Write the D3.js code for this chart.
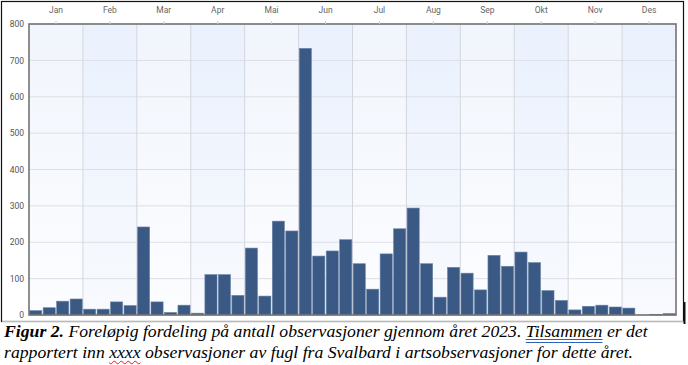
<!DOCTYPE html>
<html>
<head>
<meta charset="utf-8">
<script src="https://cdn.jsdelivr.net/npm/d3@7"></script>
<style>
  html, body { margin: 0; padding: 0; background: #fff; }
  #wrap { position: relative; width: 688px; height: 365px; overflow: hidden; }
  svg { position: absolute; left: 0; top: 0; }
  #cap { position: absolute; left: 4px; top: 321px; width: 700px;
         font-family: "Liberation Serif", "Times New Roman", serif; font-style: italic;
         font-size: 17.7px; line-height: 21px; color: #000; white-space: nowrap; }
  #cap b { font-weight: bold; }
  .dbl { text-decoration: underline double #2f5fbf; text-underline-offset: 2px; }
  .wavy { text-decoration: underline wavy #e02020; text-decoration-thickness: 1px; text-underline-offset: 2px; }
</style>
</head>
<body>
<div id="wrap">
<svg id="chart" width="688" height="365"></svg>
<div id="cap"><b>Figur 2.</b> Foreløpig fordeling på antall observasjoner gjennom året 2023. <span class="dbl">Tilsammen</span> er det<br>rapportert inn <span class="wavy">xxxx</span> observasjoner av fugl fra Svalbard i artsobservasjoner for dette året.</div>
</div>
<script>
// ---- data ----
const months = ["Jan","Feb","Mar","Apr","Mai","Jun","Jul","Aug","Sep","Okt","Nov","Des"];
const periods = d3.range(48); // four periods per month
const counts = [
  12, 20, 38, 44,
  16, 16, 36, 26,
  242, 36, 7, 27,
  5, 111, 111, 54,
  184, 52, 258, 231,
  733, 162, 176, 207,
  141, 71, 168, 237,
  294, 141, 49, 131,
  115, 69, 164, 134,
  173, 144, 67, 40,
  14, 24, 27, 22,
  19, 0, 2, 4
];
const yTicks = [0, 100, 200, 300, 400, 500, 600, 700, 800];

// ---- layout ----
const L = 29, R = 676, T = 24, B = 315;
const svg = d3.select("#chart");

const defs = svg.append("defs");
function grad(id, top, bot) {
  const g = defs.append("linearGradient").attr("id", id)
    .attr("x1", 0).attr("y1", 0).attr("x2", 0).attr("y2", 1);
  g.append("stop").attr("offset", "0%").attr("stop-color", top);
  g.append("stop").attr("offset", "100%").attr("stop-color", bot);
}
grad("gOdd", "#f1f5fc", "#fcfdff");
grad("gEven", "#eaf1fd", "#f8fafe");

// outer frame of the chart picture
svg.append("rect").attr("x", 1.5).attr("y", 1.5).attr("width", 682).attr("height", 320)
  .attr("fill", "#fff").attr("stroke", "#111").attr("stroke-width", 1.2);
svg.append("line").attr("x1", 2).attr("x2", 684).attr("y1", 321.5).attr("y2", 321.5)
  .attr("stroke", "#bbb").attr("stroke-width", 1);
svg.append("rect").attr("x", 683.5).attr("y", 302).attr("width", 2).attr("height", 22).attr("fill", "#111");

const xm = d3.scaleBand().domain(months).range([L, R]).padding(0);
const x = d3.scaleBand().domain(periods).range([L, R]).paddingInner(0.1).paddingOuter(0.05);
const y = d3.scaleLinear().domain([0, 800]).range([B, T]);

// month bands
svg.append("g").selectAll("rect").data(months).join("rect")
  .attr("x", d => xm(d)).attr("y", T).attr("width", xm.bandwidth()).attr("height", B - T)
  .attr("fill", (d, i) => i % 2 ? "url(#gEven)" : "url(#gOdd)");

// horizontal grid
svg.append("g").selectAll("line").data(yTicks).join("line")
  .attr("x1", L).attr("x2", R).attr("y1", d => y(d)).attr("y2", d => y(d))
  .attr("stroke", "#dcdfe6").attr("stroke-width", 1);
// vertical grid
svg.append("g").selectAll("line").data(months.slice(1)).join("line")
  .attr("x1", d => xm(d)).attr("x2", d => xm(d)).attr("y1", T).attr("y2", B)
  .attr("stroke", "#d3d6dd").attr("stroke-width", 1);

// bars
svg.append("g").selectAll("rect").data(counts).join("rect")
  .attr("x", (d, i) => x(i)).attr("width", x.bandwidth())
  .attr("y", d => y(d)).attr("height", d => B - y(d))
  .attr("fill", "#3a5a85").attr("stroke", "#6a83a6").attr("stroke-width", 0.6);

// plot border
svg.append("rect").attr("x", L).attr("y", T).attr("width", R - L).attr("height", B - T)
  .attr("fill", "none").attr("stroke", "#747474").attr("stroke-width", 1.6);

// y axis labels
const yAxis = d3.axisLeft(y).tickValues(yTicks).tickSize(0).tickPadding(4);
const gy = svg.append("g").attr("transform", `translate(${L - 1},0)`).call(yAxis);
gy.select(".domain").remove();
gy.selectAll("text").attr("font-family", "Roboto, 'Liberation Sans', sans-serif")
  .attr("font-size", 8.5).attr("fill", "#555");

// month labels on top
const xAxis = d3.axisTop(xm).tickSize(3).tickPadding(8);
const gx = svg.append("g").attr("transform", `translate(0,${T})`).call(xAxis);
gx.select(".domain").remove();
gx.selectAll(".tick line").attr("stroke", "#ccc");
gx.selectAll("text").attr("font-family", "Roboto, 'Liberation Sans', sans-serif")
  .attr("font-size", 8.5).attr("fill", "#666");
</script>
</body>
</html>
